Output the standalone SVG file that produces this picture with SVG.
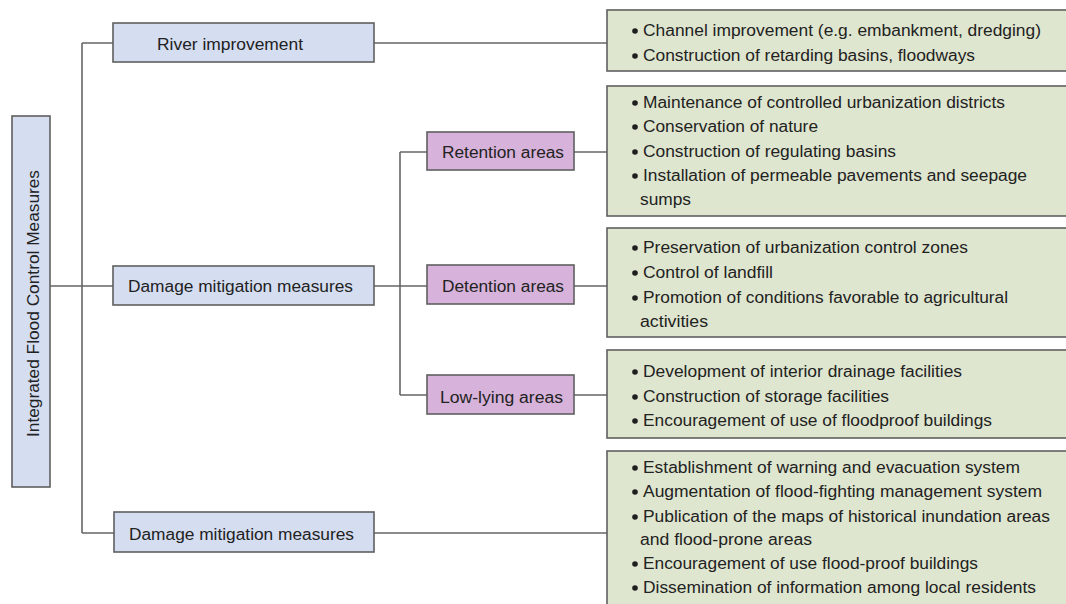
<svg xmlns="http://www.w3.org/2000/svg" width="1066" height="604" viewBox="0 0 1066 604">
<style>
.n{stroke:#5f5f5f;stroke-width:1.6}
.blue{fill:#d5ddf1}
.pur{fill:#d7b2da}
.grn{fill:#dfe6cf}
.t{font-family:"Liberation Sans",Arial,sans-serif;font-size:16px;fill:#222}
.c{stroke:#666;stroke-width:1.6;fill:none}
.b{fill:#1e1e1e}
</style>
<rect width="1066" height="604" fill="#ffffff"/>
<g id="connectors">
<path class="c" d="M82 43V533M82 43H113M50 286H113M82 533H114M374 43H607M374 286H427M400 152V395M400 152H427M400 395H427M574 152H607M574 286H607M574 395H607M374 533H607"/>
</g>
<g id="root">
<rect class="n blue" x="12" y="116" width="38" height="371"/>
<text class="t" transform="translate(39,303.5) rotate(-90)" text-anchor="middle" textLength="267" lengthAdjust="spacingAndGlyphs">Integrated Flood Control Measures</text>
</g>
<g id="river">
<rect class="n blue" x="113" y="23" width="261" height="39"/>
<text class="t" x="157" y="50" textLength="146" lengthAdjust="spacingAndGlyphs">River improvement</text>
</g>
<g id="damage1">
<rect class="n blue" x="113" y="266" width="261" height="39"/>
<text class="t" x="128" y="292" textLength="225" lengthAdjust="spacingAndGlyphs">Damage mitigation measures</text>
</g>
<g id="damage2">
<rect class="n blue" x="114" y="512" width="260" height="40"/>
<text class="t" x="129" y="540" textLength="225" lengthAdjust="spacingAndGlyphs">Damage mitigation measures</text>
</g>
<g id="retention">
<rect class="n pur" x="427" y="132" width="147" height="38"/>
<text class="t" x="442" y="158" textLength="122" lengthAdjust="spacingAndGlyphs">Retention areas</text>
</g>
<g id="detention">
<rect class="n pur" x="427" y="265" width="147" height="39"/>
<text class="t" x="442" y="292" textLength="122" lengthAdjust="spacingAndGlyphs">Detention areas</text>
</g>
<g id="lowlying">
<rect class="n pur" x="427" y="375" width="147" height="39"/>
<text class="t" x="440" y="403" textLength="123" lengthAdjust="spacingAndGlyphs">Low-lying areas</text>
</g>
<g id="list1">
<rect class="n grn" x="607" y="10" width="465" height="61"/>
<circle class="b" cx="635" cy="31" r="2.8"/>
<circle class="b" cx="635" cy="56" r="2.8"/>
<text class="t" x="643" y="36" textLength="398" lengthAdjust="spacingAndGlyphs">Channel improvement (e.g. embankment, dredging)</text>
<text class="t" x="643" y="61" textLength="332" lengthAdjust="spacingAndGlyphs">Construction of retarding basins, floodways</text>
</g>
<g id="list2">
<rect class="n grn" x="607" y="86" width="465" height="130"/>
<circle class="b" cx="635" cy="103" r="2.8"/>
<circle class="b" cx="635" cy="127" r="2.8"/>
<circle class="b" cx="635" cy="152" r="2.8"/>
<circle class="b" cx="635" cy="176" r="2.8"/>
<text class="t" x="643" y="108" textLength="362" lengthAdjust="spacingAndGlyphs">Maintenance of controlled urbanization districts</text>
<text class="t" x="643" y="132" textLength="175" lengthAdjust="spacingAndGlyphs">Conservation of nature</text>
<text class="t" x="643" y="157" textLength="253" lengthAdjust="spacingAndGlyphs">Construction of regulating basins</text>
<text class="t" x="643" y="181" textLength="384" lengthAdjust="spacingAndGlyphs">Installation of permeable pavements and seepage</text>
<text class="t" x="640" y="205" textLength="51" lengthAdjust="spacingAndGlyphs">sumps</text>
</g>
<g id="list3">
<rect class="n grn" x="607" y="228" width="465" height="109"/>
<circle class="b" cx="635" cy="248" r="2.8"/>
<circle class="b" cx="635" cy="273" r="2.8"/>
<circle class="b" cx="635" cy="298" r="2.8"/>
<text class="t" x="643" y="253" textLength="325" lengthAdjust="spacingAndGlyphs">Preservation of urbanization control zones</text>
<text class="t" x="643" y="278" textLength="130" lengthAdjust="spacingAndGlyphs">Control of landfill</text>
<text class="t" x="643" y="303" textLength="365" lengthAdjust="spacingAndGlyphs">Promotion of conditions favorable to agricultural</text>
<text class="t" x="640" y="327" textLength="68" lengthAdjust="spacingAndGlyphs">activities</text>
</g>
<g id="list4">
<rect class="n grn" x="607" y="350" width="465" height="88"/>
<circle class="b" cx="635" cy="372" r="2.8"/>
<circle class="b" cx="635" cy="397" r="2.8"/>
<circle class="b" cx="635" cy="421" r="2.8"/>
<text class="t" x="643" y="377" textLength="319" lengthAdjust="spacingAndGlyphs">Development of interior drainage facilities</text>
<text class="t" x="643" y="402" textLength="246" lengthAdjust="spacingAndGlyphs">Construction of storage facilities</text>
<text class="t" x="643" y="426" textLength="349" lengthAdjust="spacingAndGlyphs">Encouragement of use of floodproof buildings</text>
</g>
<g id="list5">
<rect class="n grn" x="607" y="451" width="465" height="165"/>
<circle class="b" cx="635" cy="468" r="2.8"/>
<circle class="b" cx="635" cy="492" r="2.8"/>
<circle class="b" cx="635" cy="517" r="2.8"/>
<circle class="b" cx="635" cy="564" r="2.8"/>
<circle class="b" cx="635" cy="588" r="2.8"/>
<text class="t" x="643" y="473" textLength="377" lengthAdjust="spacingAndGlyphs">Establishment of warning and evacuation system</text>
<text class="t" x="643" y="497" textLength="399" lengthAdjust="spacingAndGlyphs">Augmentation of flood-fighting management system</text>
<text class="t" x="643" y="522" textLength="407" lengthAdjust="spacingAndGlyphs">Publication of the maps of historical inundation areas</text>
<text class="t" x="640" y="545" textLength="172" lengthAdjust="spacingAndGlyphs">and flood-prone areas</text>
<text class="t" x="643" y="569" textLength="335" lengthAdjust="spacingAndGlyphs">Encouragement of use flood-proof buildings</text>
<text class="t" x="643" y="593" textLength="393" lengthAdjust="spacingAndGlyphs">Dissemination of information among local residents</text>
</g>
</svg>
